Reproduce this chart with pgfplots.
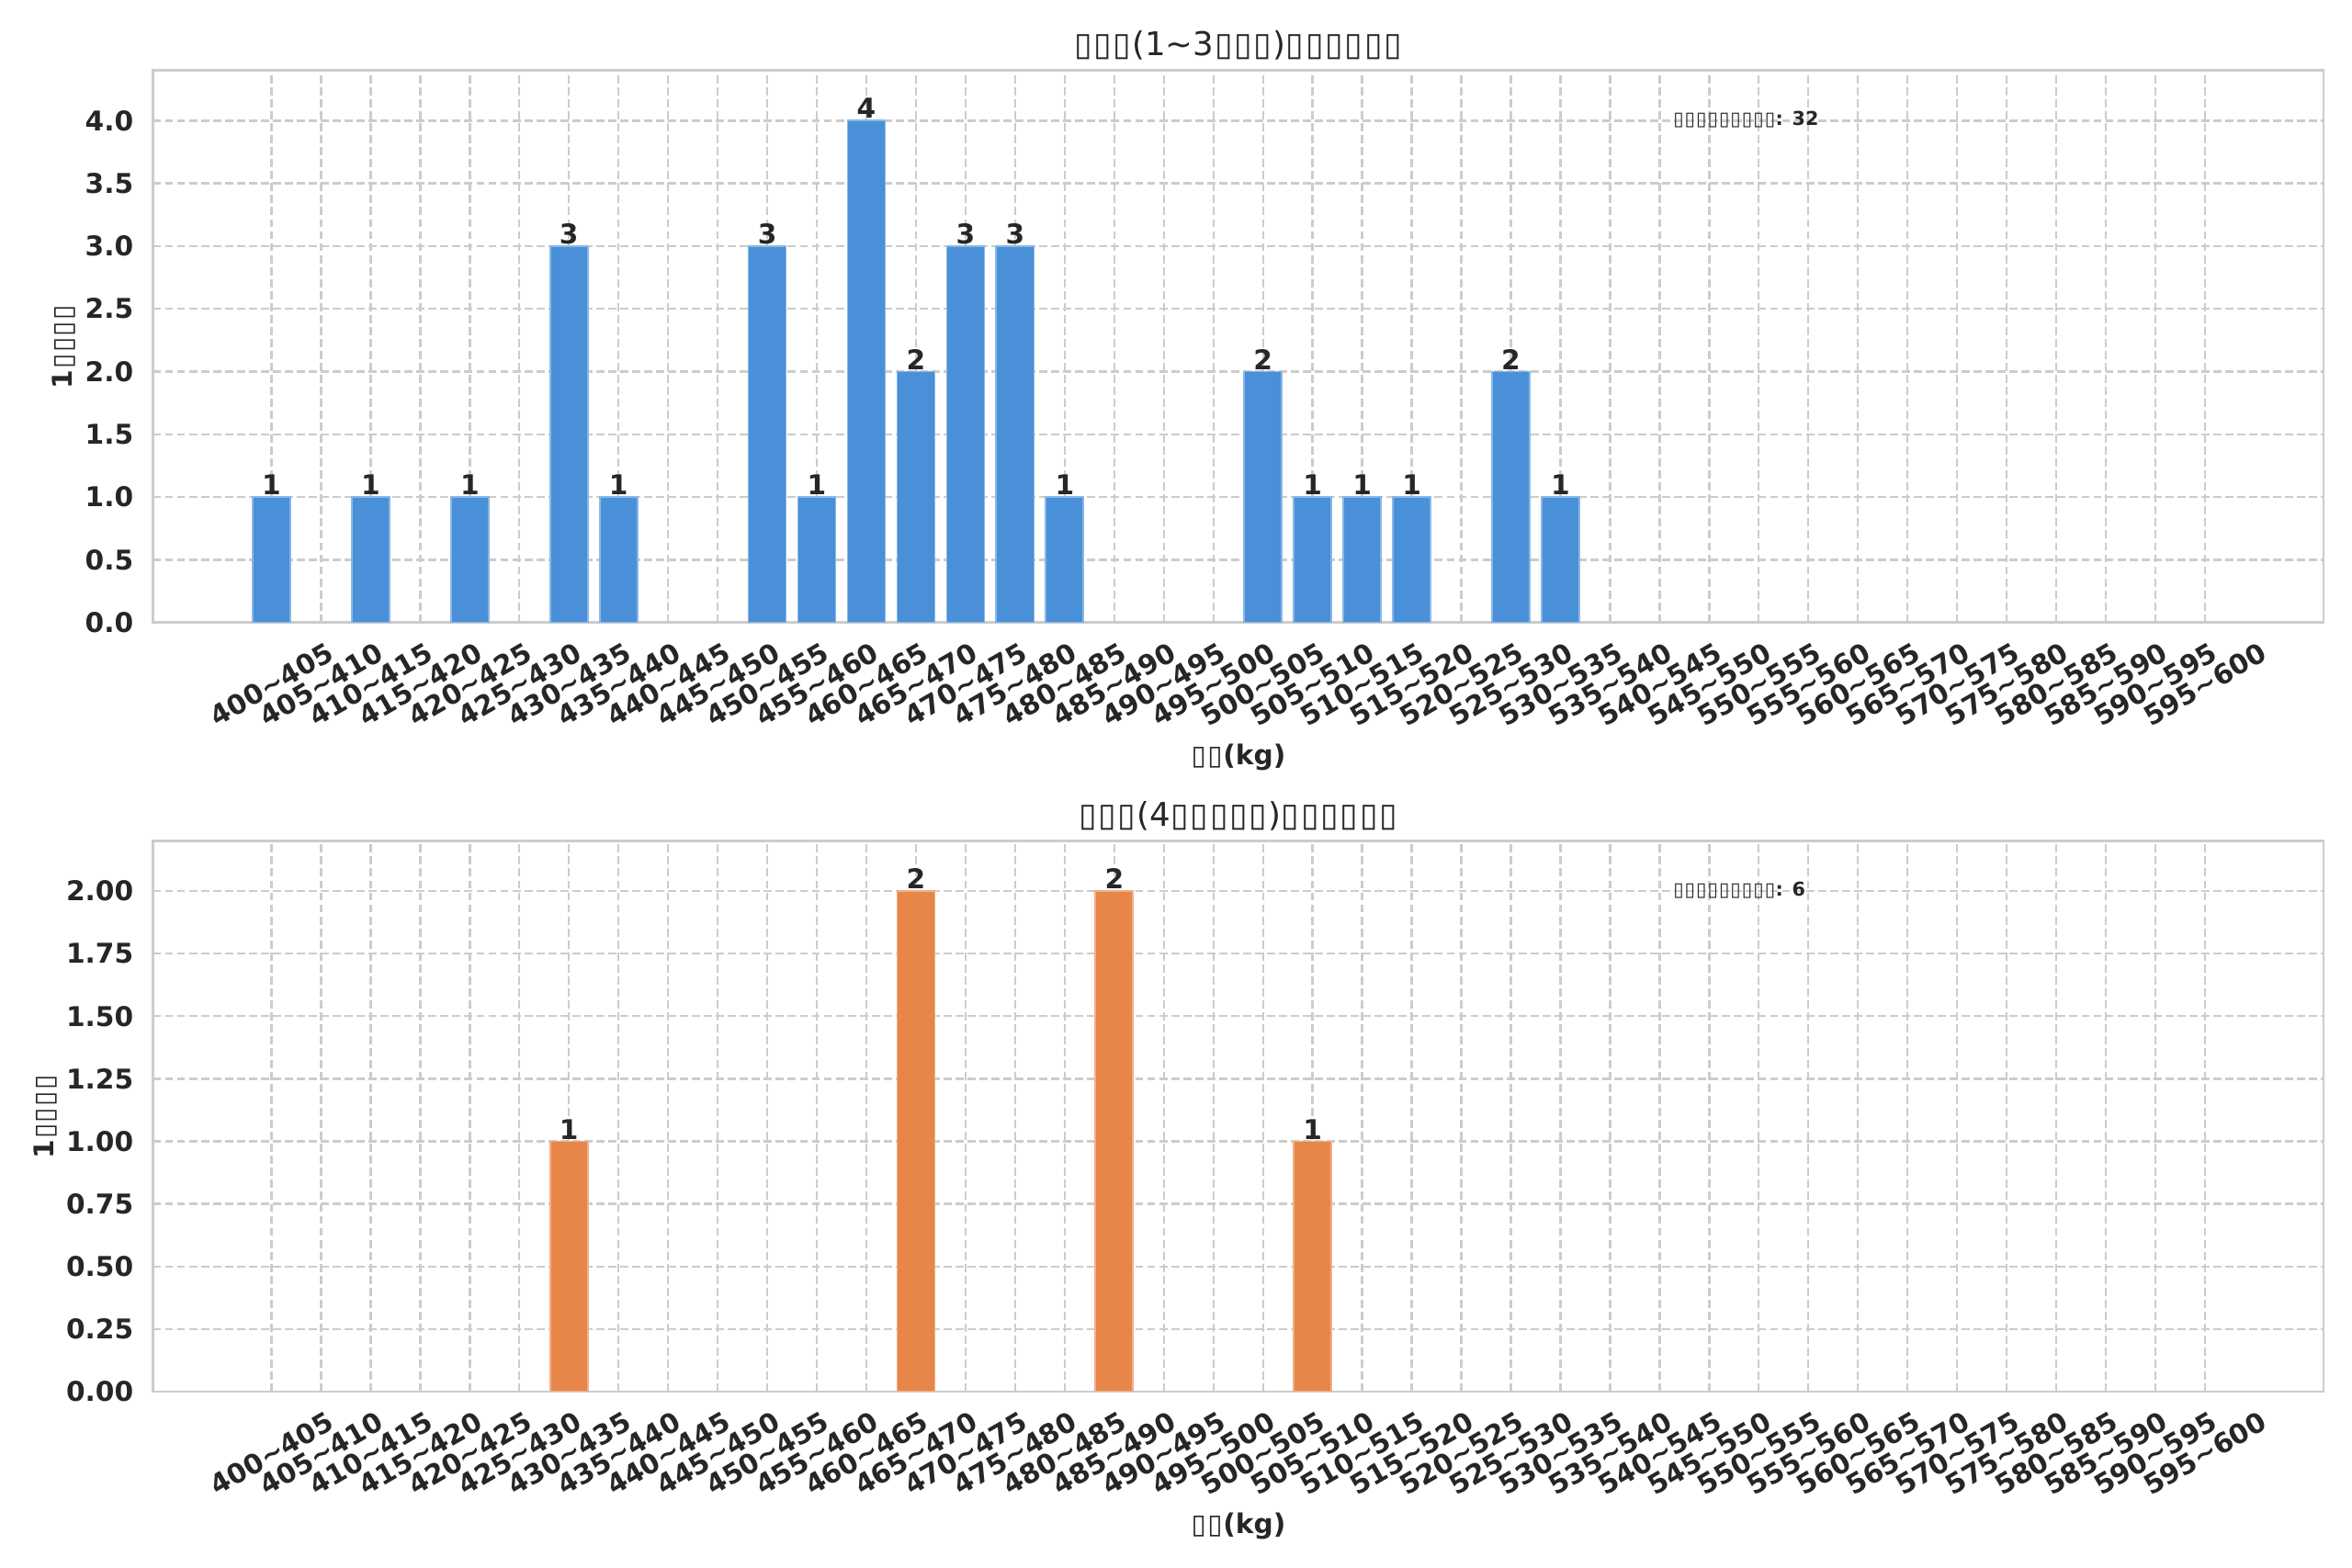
\documentclass[border=0pt]{standalone}
\usepackage{fontspec}
\setmainfont{DejaVu Sans}
\usepackage{pgfplots}
\pgfplotsset{compat=1.18}
\definecolor{txt}{HTML}{262626}
\definecolor{gridc}{HTML}{CCCCCC}
\definecolor{barblue}{HTML}{4A90D9}
\definecolor{barorange}{HTML}{E8864A}
\newcommand\rl[2]{\rotatebox{30}{#1\textasciitilde#2}}
\newcommand\tf{\makebox[0.6em]{▯}}
\pgfplotsset{
 mylabels/.style={xticklabels={\rl{400}{405},\rl{405}{410},\rl{410}{415},\rl{415}{420},\rl{420}{425},\rl{425}{430},\rl{430}{435},\rl{435}{440},\rl{440}{445},\rl{445}{450},\rl{450}{455},\rl{455}{460},\rl{460}{465},\rl{465}{470},\rl{470}{475},\rl{475}{480},\rl{480}{485},\rl{485}{490},\rl{490}{495},\rl{495}{500},\rl{500}{505},\rl{505}{510},\rl{510}{515},\rl{515}{520},\rl{520}{525},\rl{525}{530},\rl{530}{535},\rl{535}{540},\rl{540}{545},\rl{545}{550},\rl{550}{555},\rl{555}{560},\rl{560}{565},\rl{565}{570},\rl{570}{575},\rl{575}{580},\rl{580}{585},\rl{585}{590},\rl{590}{595},\rl{595}{600}}},
 base/.style={
  scale only axis, width=797.3bp,
  xmin=-2.39, xmax=41.39, ymin=0,
  xtick={0,...,39}, mylabels,
  axis line style={gridc, line width=0.9bp},
  major tick length=0pt,
  xmajorgrids, ymajorgrids,
  major grid style={gridc, line width=0.8bp, dash pattern=on 3bp off 1.4bp},
  ticklabel style={font=\fontsize{10bp}{12bp}\selectfont\bfseries, text=txt},
  xticklabel style={anchor=north, inner sep=0pt, yshift=-6.7bp},
  yticklabel style={anchor=east, inner sep=0pt, xshift=-7bp},
  /pgf/number format/assume math mode=true,
  ybar, bar width=0.76,
  nodes near coords,
  nodes near coords style={font=\fontsize{10bp}{12bp}\selectfont\bfseries, text=txt, anchor=base, inner sep=0pt, yshift=0.8bp},
  title style={font=\fontsize{12bp}{14bp}\selectfont, text=txt, at={(0.5,1)}, anchor=base, yshift=-0.6bp},
  xlabel style={font=\fontsize{10bp}{12bp}\selectfont\bfseries, text=txt, yshift=-2.6bp},
  ylabel style={font=\fontsize{10bp}{12bp}\selectfont\bfseries, text=txt},
  xlabel={\tf\tf(kg)}, ylabel={1\tf\tf\tf\tf},
 }
}
\begin{document}
\begin{tikzpicture}
\path[use as bounding box] (0,0) rectangle (864bp,576bp);
\begin{axis}[base, at={(56.2bp,347.3bp)}, anchor=south west, height=202.8bp,
  ymax=4.4, ytick={0,0.5,...,4},
  yticklabel style={/pgf/number format/fixed, /pgf/number format/fixed zerofill, /pgf/number format/precision=1},
  title={\tf\tf\tf(1\textasciitilde3\tf\tf\tf)\tf\tf\tf\tf\tf\tf}]
\addplot[fill=barblue, draw=barblue!65!white, line width=0.6bp] coordinates {
(0,1) (2,1) (4,1) (6,3) (7,1) (10,3) (11,1) (12,4) (13,2) (14,3) (15,3) (16,1)
(20,2) (21,1) (22,1) (23,1) (25,2) (26,1)};
\node[anchor=base west, inner sep=0pt, text=txt, font=\fontsize{7bp}{8bp}\selectfont\bfseries] at (rel axis cs:0.7,0.9) {\tf\tf\tf\tf\tf\tf\tf\tf\tf: 32};
\end{axis}
\begin{axis}[base, at={(56.2bp,64.7bp)}, anchor=south west, height=202.3bp,
  ymax=2.2, ytick={0,0.25,...,2},
  yticklabel style={/pgf/number format/fixed, /pgf/number format/fixed zerofill, /pgf/number format/precision=2},
  title={\tf\tf\tf(4\tf\tf\tf\tf\tf)\tf\tf\tf\tf\tf\tf}]
\addplot[fill=barorange, draw=barorange!65!white, line width=0.6bp] coordinates {
(6,1) (13,2) (17,2) (21,1)};
\node[anchor=base west, inner sep=0pt, text=txt, font=\fontsize{7bp}{8bp}\selectfont\bfseries] at (rel axis cs:0.7,0.9) {\tf\tf\tf\tf\tf\tf\tf\tf\tf: 6};
\end{axis}
\end{tikzpicture}
\end{document}
